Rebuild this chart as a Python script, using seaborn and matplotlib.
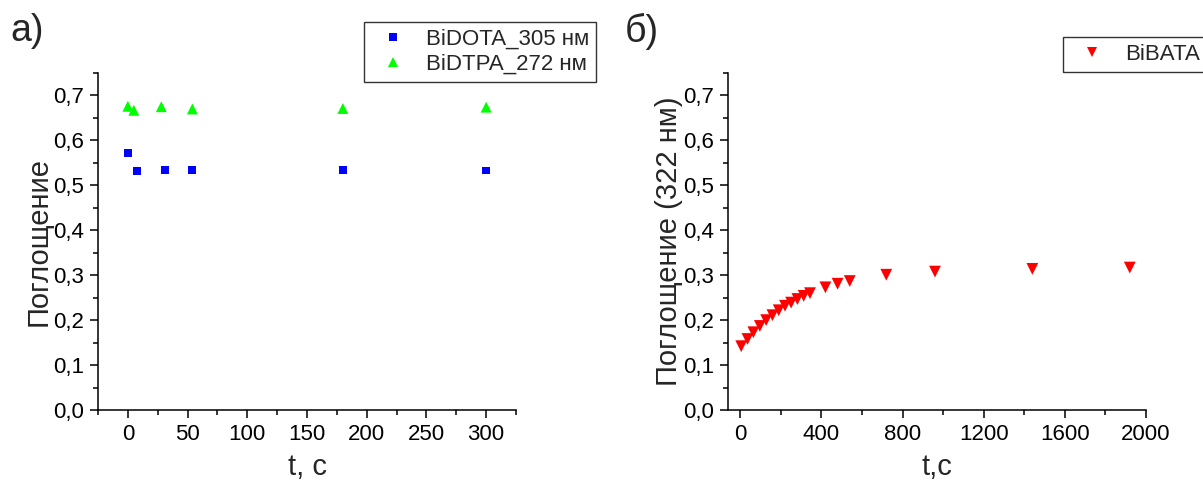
import matplotlib
matplotlib.use("Agg")
import matplotlib.pyplot as plt
from matplotlib.ticker import MultipleLocator, FuncFormatter
import seaborn as sns
import pandas as pd

# Panel a): absorbance of two complexes over time
t_dota = [0, 8, 31, 54, 180, 300]
a_dota = [0.571, 0.532, 0.534, 0.534, 0.534, 0.533]
t_dtpa = [0, 5, 28, 54, 180, 300]
a_dtpa = [0.676, 0.667, 0.675, 0.670, 0.671, 0.674]

# Panel б): absorbance at 322 nm for BiBATA
t_bata = [5, 36, 65, 97, 128, 159, 190, 221, 251, 282, 313, 344,
          420, 480, 540, 720, 960, 1440, 1920]
a_bata = [0.142, 0.158, 0.173, 0.187, 0.200, 0.211, 0.222, 0.232, 0.239,
          0.247, 0.254, 0.260, 0.273, 0.281, 0.287, 0.301, 0.308, 0.314, 0.317]

label_dota = "BiDOTA_305 нм"
label_dtpa = "BiDTPA_272 нм"
label_bata = "BiBATA"

sns.set_theme(style="ticks")
plt.rcParams["font.family"] = ["Liberation Sans", "DejaVu Sans"]

W, H = 1203, 483
fig = plt.figure(figsize=(W / 100, H / 100), dpi=100)

def frac_axes(x0, x1, y0, y1):
    return fig.add_axes([x0 / W, 1 - y1 / H, (x1 - x0) / W, (y1 - y0) / H])

ax1 = frac_axes(98, 516, 73, 410)
ax2 = frac_axes(728, 1146, 73, 410)

df_a = pd.concat([
    pd.DataFrame({"t": t_dota, "A": a_dota, "s": label_dota}),
    pd.DataFrame({"t": t_dtpa, "A": a_dtpa, "s": label_dtpa}),
])
df_b = pd.DataFrame({"t": t_bata, "A": a_bata, "s": label_bata})

sns.scatterplot(data=df_a, x="t", y="A", hue="s", style="s",
                palette={label_dota: "#0000FF", label_dtpa: "#00FF00"},
                markers={label_dota: "s", label_dtpa: "^"},
                size="s", sizes={label_dota: 33, label_dtpa: 62},
                linewidth=0, ax=ax1)
sns.scatterplot(data=df_b, x="t", y="A", hue="s", style="s",
                palette={label_bata: "#FF0000"}, markers={label_bata: "v"},
                s=72, linewidth=0, ax=ax2)

comma = FuncFormatter(lambda v, p: f"{v:.1f}".replace(".", ","))

for ax in (ax1, ax2):
    ax.set_ylim(0, 0.75)
    ax.yaxis.set_major_locator(MultipleLocator(0.1))
    ax.yaxis.set_minor_locator(MultipleLocator(0.05))
    ax.yaxis.set_major_formatter(comma)
    ax.spines["top"].set_visible(False)
    ax.spines["right"].set_visible(False)
    for sp in ("left", "bottom"):
        ax.spines[sp].set_linewidth(1.1)
        ax.spines[sp].set_color("black")
    ax.tick_params(which="major", direction="out", length=6, width=1.1,
                   labelsize=16, colors="black", pad=4)
    ax.tick_params(which="minor", direction="out", length=3.5, width=1.1,
                   colors="black")

ax1.set_xlim(-25, 325)
ax1.xaxis.set_major_locator(MultipleLocator(50))
ax1.xaxis.set_minor_locator(MultipleLocator(25))
ax2.set_xlim(-60, 2000)
ax2.xaxis.set_major_locator(MultipleLocator(400))
ax2.xaxis.set_minor_locator(MultipleLocator(200))

ax1.set_xlabel("t, с", fontsize=21, labelpad=6)
ax1.set_ylabel("Поглощение", fontsize=21, labelpad=0)
ax2.set_xlabel("t,с", fontsize=21, labelpad=6)
ax2.set_ylabel("Поглощение (322 нм)", fontsize=21, labelpad=0)

leg1 = ax1.legend(loc="upper left", bbox_to_anchor=(364 / W, 1 - 22 / H),
                  bbox_transform=fig.transFigure, borderaxespad=0,
                  fontsize=16, frameon=True, fancybox=False,
                  edgecolor="black", handlelength=2.0, handletextpad=0.5,
                  labelspacing=0.2, borderpad=0.3, markerscale=0.95)
leg1.get_frame().set_linewidth(1.0)
leg2 = ax2.legend(loc="upper left", bbox_to_anchor=(1063 / W, 1 - 37.5 / H),
                  bbox_transform=fig.transFigure, borderaxespad=0,
                  fontsize=16, frameon=True, fancybox=False,
                  edgecolor="black", handlelength=2.0, handletextpad=0.5,
                  borderpad=0.3, markerscale=0.85)
leg2.get_frame().set_linewidth(1.0)

fig.text(10 / W, 1 - 31 / H, "а)", fontsize=27, va="center", ha="left")
fig.text(625 / W, 1 - 31 / H, "б)", fontsize=27, va="center", ha="left")

fig.savefig("out.png", dpi=100, facecolor="white")
